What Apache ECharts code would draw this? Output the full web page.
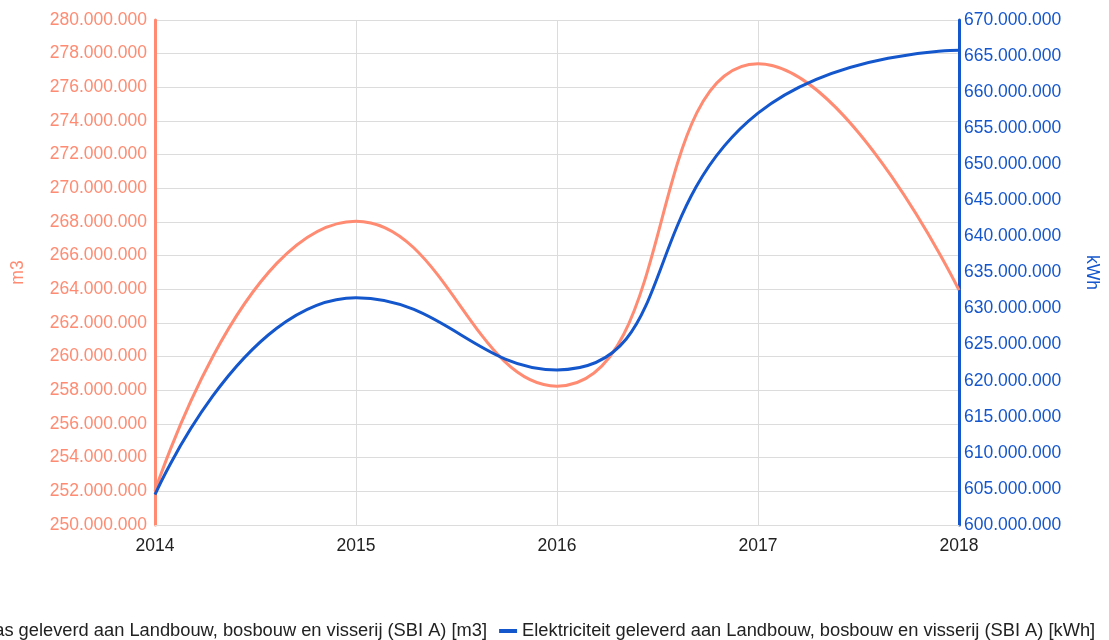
<!DOCTYPE html>
<html>
<head>
<meta charset="utf-8">
<script src="https://cdn.jsdelivr.net/npm/echarts@6/dist/echarts.min.js"></script>
<style>html,body{margin:0;padding:0;background:#fff;overflow:hidden;}#c{width:1109px;height:640px;}</style>
</head>
<body>
<div id="c"></div>
<script>
const years = ['2014', '2015', '2016', '2017', '2018'];
const gasValues = [252000000, 268050000, 258250000, 277400000, 263950000];
const elecValues = [604200000, 631500000, 621500000, 657100000, 665800000];
const gasName = 'Gas geleverd aan Landbouw, bosbouw en visserij (SBI A) [m3]';
const elecName = 'Elektriciteit geleverd aan Landbouw, bosbouw en visserij (SBI A) [kWh]';

const gasColor = '#ff8b72';
const elecColor = '#1456cc';
const font = 'Liberation Sans, Arial, sans-serif';

function fmt(v) {
  return String(Math.round(v)).replace(/\B(?=(\d{3})+(?!\d))/g, '.');
}

const chart = echarts.init(document.getElementById('c'), null, {renderer: 'canvas', width: 1109, height: 640});
chart.setOption({
  animation: false,
  backgroundColor: '#fff',
  textStyle: {fontFamily: font},
  grid: {left: 155, right: 132, top: 20, bottom: 115, containLabel: false},
  legend: {
    left: -48, bottom: -5, width: 1400,
    itemWidth: 18, itemHeight: 4, itemGap: 12,
    icon: 'rect',
    textStyle: {fontSize: 18.3, color: '#222', fontFamily: font},
    data: [gasName, elecName]
  },
  xAxis: {
    type: 'category', data: years, boundaryGap: false,
    axisLine: {show: true, lineStyle: {color: '#dcdcdc', width: 1}},
    axisTick: {show: false},
    axisLabel: {color: '#222', fontSize: 17.5, margin: 12, fontFamily: font},
    splitLine: {show: true, lineStyle: {color: '#dcdcdc', width: 1}}
  },
  yAxis: [
    {
      type: 'value', position: 'left', min: 250000000, max: 280000000, interval: 2000000,
      name: 'm3', nameLocation: 'middle', nameGap: 128,
      nameTextStyle: {color: gasColor, fontSize: 17.5, fontFamily: font},
      axisLine: {show: true, lineStyle: {color: gasColor, width: 3}},
      axisTick: {show: false},
      axisLabel: {color: gasColor, fontSize: 17.5, margin: 8, formatter: fmt, fontFamily: font},
      splitLine: {show: true, lineStyle: {color: '#dcdcdc', width: 1}}
    },
    {
      type: 'value', position: 'right', min: 600000000, max: 670000000, interval: 5000000,
      name: 'kWh', nameLocation: 'middle', nameGap: 124, nameRotate: -90,
      nameTextStyle: {color: elecColor, fontSize: 17.5, fontFamily: font},
      axisLine: {show: true, lineStyle: {color: elecColor, width: 3}},
      axisTick: {show: false},
      axisLabel: {color: elecColor, fontSize: 17.5, margin: 5, formatter: fmt, fontFamily: font},
      splitLine: {show: false}
    }
  ],
  series: [
    {
      name: gasName, type: 'line', yAxisIndex: 0, data: gasValues,
      smooth: 0.5, symbol: 'none', showSymbol: false,
      lineStyle: {color: gasColor, width: 3}, itemStyle: {color: gasColor}
    },
    {
      name: elecName, type: 'line', yAxisIndex: 1, data: elecValues,
      smooth: 0.5, symbol: 'none', showSymbol: false,
      lineStyle: {color: elecColor, width: 3}, itemStyle: {color: elecColor}
    }
  ]
});
</script>
</body>
</html>
